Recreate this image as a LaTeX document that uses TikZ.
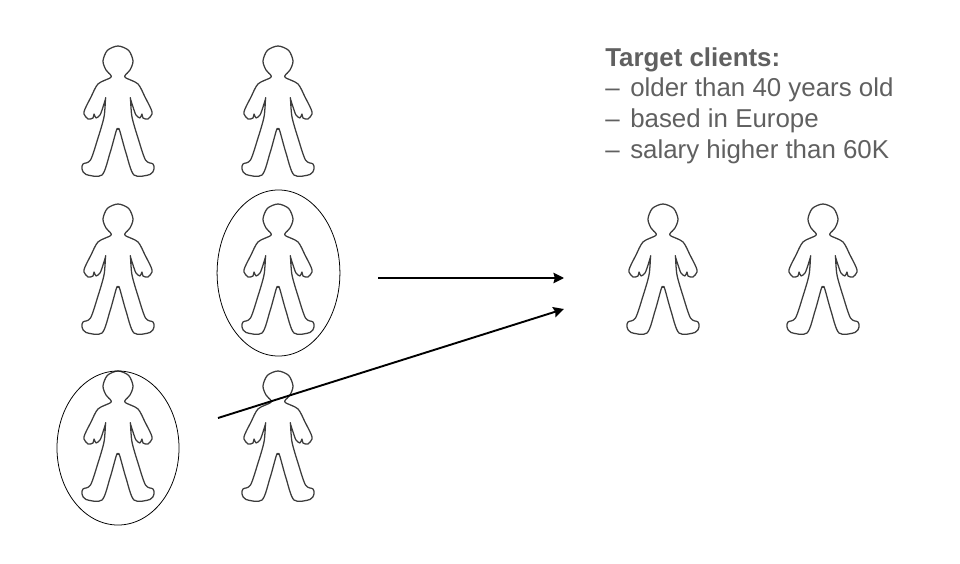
\documentclass[tikz,border=0pt]{standalone}
\usepackage{fontspec}
\setmainfont{Liberation Sans}
\usetikzlibrary{arrows.meta}
\usetikzlibrary{shapes.geometric}
\definecolor{figline}{RGB}{60, 60, 60}
\definecolor{cliettext}{RGB}{96, 96, 96}
\tikzset{
	person/.pic={
		\draw[figline, line width=0.9pt, line join=round]
		plot[smooth cycle, tension=0.5] coordinates {
			(0,-65) (10.6,-60.6) (15,-50) (12,-41) (7,-35.5) (8,-33) (20,-27) (27,-14) (33,-2) (34,3) (30,8) (25,7) (24,3) (22,7) (18,4) (15,-4) (12.5,-12)
			(12.5,-12) (14,6) (20,27) (27.5,49) (35,53) (36,58) (32,63.5) (16,64) (8,42) (1.5,19) (0,18.5) (-1.5,19) (-8,42) (-16,64) (-32,63.5) (-36,58) (-35,53) (-27.5,49) (-20,27) (-14,6) (-12.5,-12)
			(-12.5,-12) (-15,-4) (-18,4) (-22,7) (-24,3) (-25,7) (-30,8) (-34,3) (-33,-2) (-27,-14) (-20,-27) (-8,-33) (-7,-35.5) (-12,-41) (-15,-50) (-10.6,-60.6)
		};
	},
	selected/.style={draw, ellipse, line width=0.55pt, inner sep=0pt, minimum width=#1},
	flow/.style={-{Stealth[length=7.5pt, width=7.5pt, inset=1pt]}, line width=1.35pt}
}
\begin{document}
\begin{tikzpicture}[x=0.025cm, y=-0.025cm]
	\useasboundingbox (0,0) rectangle (960,564);

	% all people
	\pic at (118,111) {person};
	\pic at (278,111) {person};
	\pic at (118,269) {person};
	\pic at (278,269) {person};
	\pic at (118,436) {person};
	\pic at (278,436) {person};

	% people who pass
	\node[selected=3.07cm, minimum height=4.15cm] (sel1) at (278.5,273) {};
	\node[selected=3.05cm, minimum height=3.85cm] (sel2) at (118,448) {};

	% result
	\pic at (663,269) {person};
	\pic at (823,269) {person};

	\node[anchor=north west, align=left, inner sep=0pt, color=cliettext, font=\fontsize{18.4}{22}\selectfont] (criteria) at (605,47)
	{\textbf{Target clients:}\\
		\makebox[0.625cm][l]{–}older than 40 years old\\
		\makebox[0.625cm][l]{–}based in Europe\\
		\makebox[0.625cm][l]{–}salary higher than 60K};

	\coordinate (out1) at (378,278);
	\coordinate (in1) at (564,278);
	\coordinate (out2) at (218,418);
	\coordinate (in2) at (564,309);
	\draw[flow] (out1) -- (in1);
	\draw[flow] (out2) -- (in2);
\end{tikzpicture}
\end{document}
